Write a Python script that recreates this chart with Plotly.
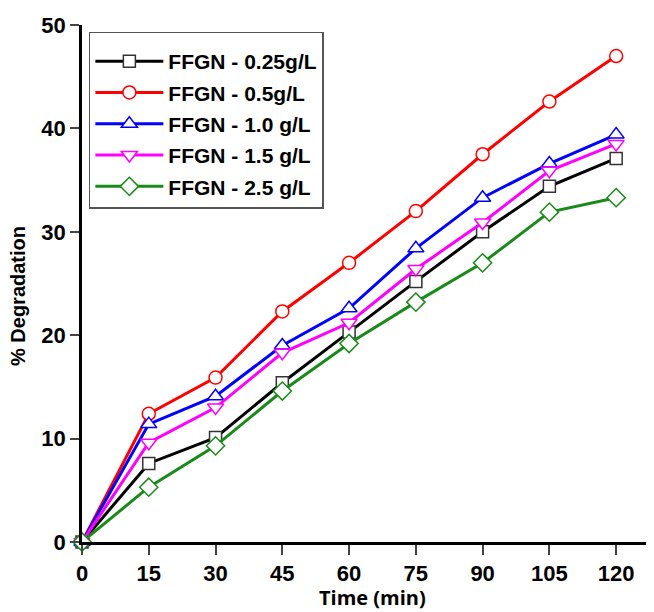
import plotly.graph_objects as go

time_min = [0, 15, 30, 45, 60, 75, 90, 105, 120]
series_names = ["FFGN - 0.25g/L", "FFGN - 0.5g/L", "FFGN - 1.0 g/L", "FFGN - 1.5 g/L", "FFGN - 2.5 g/L"]
deg_025 = [0, 7.6, 10.1, 15.4, 20.3, 25.2, 30.0, 34.4, 37.1]
deg_05 = [0, 12.4, 15.9, 22.3, 27.0, 32.0, 37.5, 42.6, 47.0]
deg_10 = [0, 11.4, 14.1, 19.0, 22.6, 28.4, 33.3, 36.6, 39.4]
deg_15 = [0, 9.6, 13.0, 18.3, 21.2, 26.4, 30.9, 35.9, 38.5]
deg_25 = [0, 5.3, 9.3, 14.6, 19.2, 23.2, 27.0, 31.9, 33.3]
x_ticks = [0, 15, 30, 45, 60, 75, 90, 105, 120]
y_ticks = [0, 10, 20, 30, 40, 50]

colors = ["#000000", "#ff0000", "#0000ff", "#ff00ff", "#1a8a1a"]
symbols = ["square", "circle", "triangle-up", "triangle-down", "diamond"]
sizes = [12, 13, 14, 14, 14]
all_series = [deg_025, deg_05, deg_10, deg_15, deg_25]

fig = go.Figure()
for i, (name, ys) in enumerate(zip(series_names, all_series)):
    fig.add_trace(go.Scatter(
        x=time_min, y=ys, name=name, mode="lines+markers",
        legendgroup=f"g{i}", cliponaxis=False,
        line=dict(color=colors[i], width=3),
        marker=dict(symbol=symbols[i], size=sizes[i], color="white",
                    line=dict(color=colors[i] if i != 0 else "#333333", width=1.5)),
    ))

arial = "Liberation Sans, Arial, sans-serif"
fig.update_layout(
    width=646, height=604,
    margin=dict(l=74, r=0, t=17, b=70),
    paper_bgcolor="white", plot_bgcolor="white",
    showlegend=True,
    legend=dict(
        x=0.012, y=0.987, xanchor="left", yanchor="top",
        bgcolor="white", bordercolor="#555555", borderwidth=1.5,
        font=dict(family=arial, size=21, color="black", weight="bold"),
        title=dict(text=" ", font=dict(size=6)),
        traceorder="grouped", tracegroupgap=1,
        itemwidth=68,
    ),
    xaxis=dict(
        range=[0, 128.5], tickvals=x_ticks, ticks="outside", ticklen=10, tickwidth=2,
        showline=True, linecolor="black", linewidth=2.5, showgrid=False, zeroline=False,
        automargin=False,
        tickfont=dict(family=arial, size=22, color="black", weight="bold"),
    ),
    xaxis2=dict(
        range=[0, 128.5], overlaying="x", side="top", tick0=0, dtick=13,
        ticks="inside", ticklen=4, tickwidth=1.5, showticklabels=False,
        showline=True, linecolor="black", linewidth=2.5, showgrid=False, zeroline=False,
        automargin=False,
    ),
    yaxis=dict(
        range=[0, 50], tickvals=y_ticks, ticks="outside", ticklen=9, tickwidth=2,
        showline=True, linecolor="black", linewidth=2.5, showgrid=False, zeroline=False,
        automargin=False,
        tickfont=dict(family=arial, size=22, color="black", weight="bold"),
    ),
    annotations=[
        dict(text="Time (min)", xref="paper", yref="paper", x=(372 - 82) / 572, y=-(597 - 542) / 517,
             xanchor="center", yanchor="middle", showarrow=False,
             font=dict(family="Open Sans, sans-serif", size=20, color="black", weight="bold")),
        dict(text="% Degradation", xref="paper", yref="paper", x=-(82 - 18) / 572, y=(542 - 296) / 517,
             xanchor="center", yanchor="middle", showarrow=False, textangle=-90,
             font=dict(family=arial, size=20, color="black", weight="bold")),
    ],
)
fig.write_html("out.html")
